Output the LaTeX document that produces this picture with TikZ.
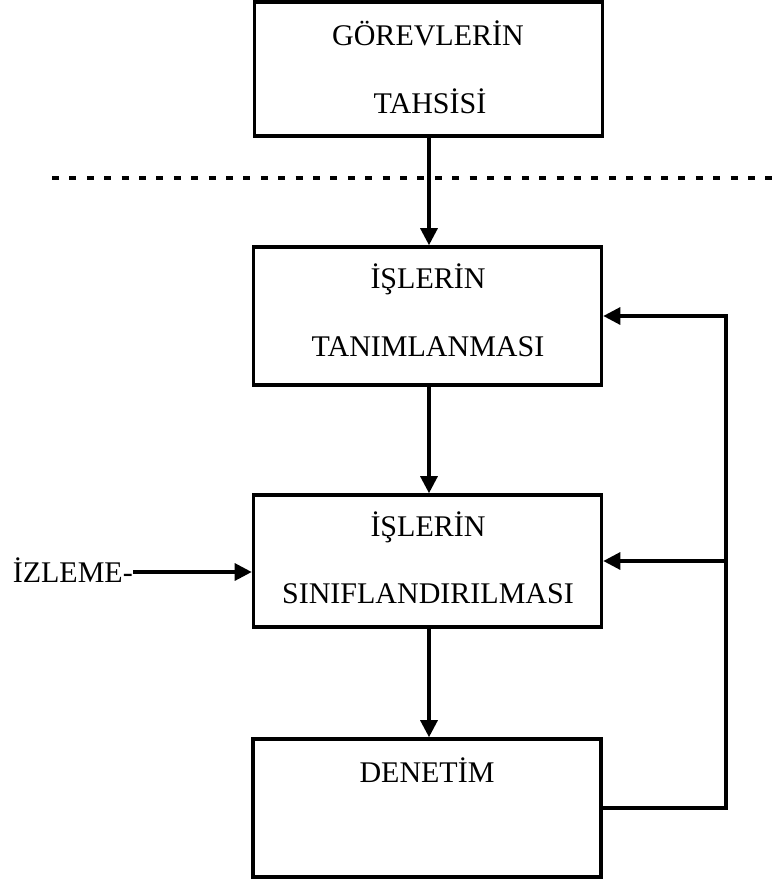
\documentclass[tikz,border=0pt]{standalone}
\usepackage{fontspec}
\setmainfont{Liberation Serif}
\usetikzlibrary{arrows.meta}
\begin{document}
\begin{tikzpicture}[x=1pt,y=-1pt,
  box/.style={draw,line width=3.6pt,rectangle,minimum width=348pt,inner sep=0pt},
  lbl/.style={anchor=base,inner sep=0pt,font=\fontsize{30}{36}\selectfont},
  conn/.style={line width=3.2pt},
  arr/.style={conn,-{Triangle[length=17pt,width=17pt]}},
  sep/.style={line width=4pt,dash pattern=on 7pt off 10.4pt}]
\useasboundingbox (0,0) rectangle (781,879);
% boxes
\node[box,minimum height=134pt] (b1) at (428.5,69) {};
\node[box,minimum height=138pt] (b2) at (427.5,316) {};
\node[box,minimum height=132pt] (b3) at (427.5,561) {};
\node[box,minimum height=138pt] (b4) at (427,808) {};
% texts
\node[lbl] (t1a) at (428,45) {GÖREVLERİN};
\node[lbl] (t1b) at (430,113) {TAHSİSİ};
\node[lbl] (t2a) at (428,288) {İŞLERİN};
\node[lbl] (t2b) at (428,356) {TANIMLANMASI};
\node[lbl] (t3a) at (428,536) {İŞLERİN};
\node[lbl] (t3b) at (428,603) {SINIFLANDIRILMASI};
\node[lbl] (t4) at (427,782) {DENETİM};
\node[lbl,anchor=base east] (izleme) at (133,582) {İZLEME-};
% dashed separator
\coordinate (dl) at (52,178);
\coordinate (dr) at (781,178);
\draw[sep] (dl) -- (dr);
% vertical flow
\draw[arr] (b1.south -| 429,0) -- (b2.north -| 429,0);
\draw[arr] (b2.south -| 429,0) -- (b3.north -| 429,0);
\draw[arr] (b3.south -| 429,0) -- (b4.north -| 429,0);
% izleme input
\coordinate (iz) at ([yshift=10pt]izleme.base east);
\draw[arr] (iz) -- (iz -| b3.west);
% feedback
\coordinate (fb) at (726,808);
\draw[arr] (b4.east) -- (fb) |- (b2.east);
\draw[arr] (fb |- b3.east) -- (b3.east);
\end{tikzpicture}
\end{document}
